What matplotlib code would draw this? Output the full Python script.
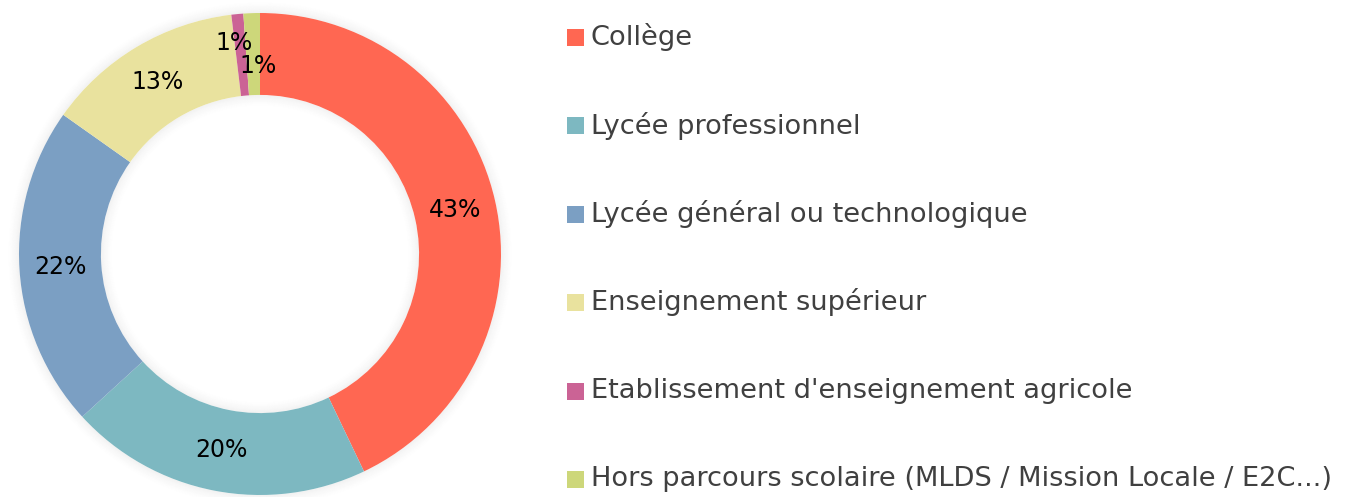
import matplotlib
matplotlib.use("Agg")
import matplotlib.pyplot as plt
from matplotlib.patches import Rectangle, Wedge
import numpy as np

categories = ["Collège", "Lycée professionnel", "Lycée général ou technologique",
              "Enseignement supérieur", "Etablissement d'enseignement agricole",
              "Hors parcours scolaire (MLDS / Mission Locale / E2C...)"]
values = [42.9, 20.3, 21.6, 13.3, 0.8, 1.1]
colors = ["#FF6752", "#7DB8C1", "#7B9FC3", "#E9E29E", "#CB6395", "#CDD77A"]

W, H = 1353, 497
fig = plt.figure(figsize=(W / 100, H / 100), dpi=100)
fig.patch.set_facecolor("white")

cx, cy, R = 260, 254, 241
pad = 1.08
ax = fig.add_axes([(cx - R * pad) / W, (H - cy - R * pad) / H, 2 * R * pad / W, 2 * R * pad / H])

width = 0.34
wedges, _ = ax.pie(values, colors=colors, startangle=90, counterclock=False,
                   radius=1.0, wedgeprops=dict(width=width, edgecolor="none"))
for w in wedges:
    w.set_zorder(2)

# soft shadow
n = 10
for i in range(n):
    r = 1.0 + 0.005 * (i + 1)
    ax.add_patch(Wedge((0, 0), r, 0, 360, width=0.005, facecolor="black",
                       alpha=0.05 * ((n - i) / n) ** 1.5, edgecolor="none", zorder=0))
for i in range(n):
    r = 1 - width - 0.005 * i
    ax.add_patch(Wedge((0, 0), r, 0, 360, width=0.005, facecolor="black",
                       alpha=0.05 * ((n - i) / n) ** 1.5, edgecolor="none", zorder=1))

ax.set_xlim(-pad, pad)
ax.set_ylim(-pad, pad)
ax.set_aspect("equal")
ax.axis("off")

font = "DejaVu Sans"
mid_r = 1 - width / 2
offsets = [(0, 0), (0, 0), (0, 0), (0, 0), (-0.03, 0.05), (0.02, -0.05)]
cum = 0
for i, v in enumerate(values):
    ang = np.deg2rad(90 - 360 * (cum + v / 2) / 100)
    cum += v
    x = mid_r * np.cos(ang) + offsets[i][0]
    y = mid_r * np.sin(ang) + offsets[i][1]
    ax.text(x, y, f"{round(v):d}%", ha="center", va="center", fontsize=17,
            color="black", family=font, zorder=5)

# legend
for i, (lab, col) in enumerate(zip(categories, colors)):
    yc = 37 + 88.5 * i
    fig.patches.append(Rectangle((567 / W, (H - yc - 8.5) / H), 17 / W, 17 / H,
                                 transform=fig.transFigure, facecolor=col,
                                 edgecolor="none"))
    fig.text(591 / W, (H - yc) / H, lab, ha="left", va="center", fontsize=19.6,
             color="#404040", family=font)

fig.savefig("out.png", dpi=100, facecolor="white")
